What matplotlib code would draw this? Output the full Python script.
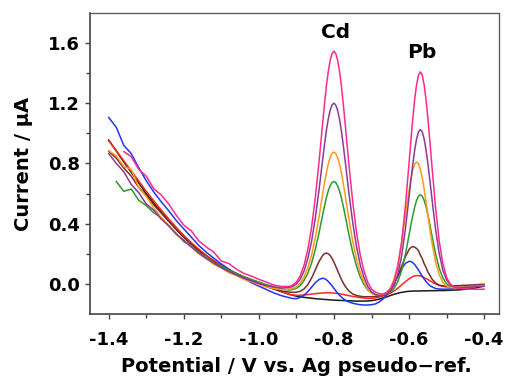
import numpy as np
import matplotlib
matplotlib.use("Agg")
import matplotlib.pyplot as plt
from matplotlib.ticker import MultipleLocator, FixedLocator, FormatStrFormatter

plt.rcParams['font.family'] = 'DejaVu Sans'
plt.rcParams['font.weight'] = 'bold'
plt.rcParams['axes.unicode_minus'] = False

nan = np.nan

# potential (V): coarse on the background slope, finer over the stripping peaks
potential = [-1.40, -1.38, -1.36, -1.34, -1.32, -1.30, -1.28, -1.26, -1.24, -1.22,
             -1.20, -1.18, -1.16, -1.14, -1.12, -1.10, -1.08, -1.06, -1.04, -1.02,
             -1.00, -0.98, -0.96, -0.94,
             -0.92, -0.91, -0.90, -0.89, -0.88, -0.87, -0.86, -0.85, -0.84, -0.83,
             -0.825, -0.82, -0.815, -0.81, -0.805, -0.80, -0.795, -0.79, -0.785, -0.78, -0.775,
             -0.77, -0.76, -0.75, -0.74, -0.73, -0.72, -0.71, -0.70, -0.69, -0.68,
             -0.67, -0.66, -0.65, -0.64, -0.63, -0.62, -0.61, -0.60,
             -0.595, -0.59, -0.585, -0.58, -0.575, -0.57, -0.565, -0.56, -0.555, -0.55, -0.545,
             -0.54, -0.53, -0.52, -0.51, -0.50, -0.49, -0.48, -0.47, -0.46, -0.44, -0.42, -0.40]

# current (uA), one list per concentration
black = [0.955, 0.882, 0.810, 0.740, 0.670, 0.600, 0.537, 0.476, 0.418, 0.362,
         0.310, 0.265, 0.222, 0.185, 0.150, 0.120, 0.093, 0.068, 0.045, 0.023,
         0.003, -0.016, -0.034, -0.052,
         -0.068, -0.075, -0.082, -0.086, -0.089, -0.092, -0.095, -0.098, -0.100, -0.102,
         -0.103, -0.104, -0.105, -0.106, -0.107, -0.108, -0.108, -0.109, -0.109, -0.110, -0.110,
         -0.111, -0.112, -0.113, -0.114, -0.114, -0.114, -0.113, -0.111, -0.107, -0.101,
         -0.094, -0.086, -0.077, -0.069, -0.062, -0.056, -0.052, -0.049,
         -0.048, -0.048, -0.047, -0.047, -0.047, -0.047, -0.046, -0.046, -0.046, -0.046, -0.045,
         -0.045, -0.045, -0.044, -0.044, -0.043, -0.042, -0.041, -0.040, -0.038, -0.033, -0.025, -0.015]

red = [0.950, 0.885, 0.818, 0.750, 0.683, 0.615, 0.552, 0.490, 0.432, 0.375,
       0.322, 0.274, 0.230, 0.190, 0.155, 0.123, 0.095, 0.070, 0.047, 0.027,
       0.010, -0.010, -0.030, -0.050,
       -0.069, -0.073, -0.076, -0.075, -0.073, -0.071, -0.068, -0.065, -0.062, -0.060,
       -0.060, -0.059, -0.059, -0.059, -0.060, -0.061, -0.062, -0.064, -0.066, -0.068, -0.070,
       -0.073, -0.078, -0.083, -0.087, -0.091, -0.094, -0.096, -0.096, -0.093, -0.088,
       -0.081, -0.072, -0.062, -0.047, -0.029, -0.007, 0.014, 0.034,
       0.042, 0.049, 0.053, 0.055, 0.055, 0.053, 0.048, 0.042, 0.036, 0.029, 0.022,
       0.014, 0.001, -0.010, -0.017, -0.020, -0.023, -0.023, -0.023, -0.022, -0.018, -0.014, -0.010]

blue = [1.105, 1.040, 0.920, 0.865, 0.770, 0.685, 0.610, 0.545, 0.485, 0.420,
        0.365, 0.310, 0.255, 0.210, 0.170, 0.132, 0.098, 0.066, 0.035, 0.008,
        -0.015, -0.037, -0.060, -0.078,
        -0.091, -0.097, -0.098, -0.090, -0.076, -0.052, -0.023, 0.007, 0.029, 0.038,
        0.035, 0.027, 0.016, 0.002, -0.013, -0.030, -0.047, -0.062, -0.076, -0.088, -0.099,
        -0.107, -0.120, -0.128, -0.134, -0.138, -0.140, -0.140, -0.138, -0.133, -0.120,
        -0.102, -0.075, -0.043, 0.001, 0.051, 0.099, 0.136, 0.150,
        0.149, 0.141, 0.129, 0.111, 0.093, 0.072, 0.052, 0.033, 0.017, 0.002, -0.009,
        -0.018, -0.030, -0.034, -0.035, -0.035, -0.033, -0.031, -0.029, -0.027, -0.022, -0.016, -0.010]

brown = [0.880, 0.835, 0.770, 0.715, 0.640, 0.590, 0.525, 0.470, 0.415, 0.360,
         0.310, 0.262, 0.220, 0.180, 0.145, 0.115, 0.088, 0.063, 0.040, 0.020,
         0.000, -0.018, -0.033, -0.046,
         -0.054, -0.056, -0.055, -0.049, -0.034, -0.006, 0.037, 0.092, 0.148, 0.190,
         0.201, 0.205, 0.200, 0.188, 0.169, 0.144, 0.116, 0.086, 0.057, 0.029, 0.005,
         -0.017, -0.048, -0.067, -0.077, -0.082, -0.085, -0.085, -0.085, -0.084, -0.081,
         -0.073, -0.060, -0.037, 0.000, 0.052, 0.116, 0.179, 0.228,
         0.242, 0.248, 0.244, 0.235, 0.221, 0.192, 0.169, 0.136, 0.111, 0.080, 0.060,
         0.036, 0.007, -0.008, -0.013, -0.015, -0.015, -0.013, -0.012, -0.010, -0.008, -0.005, -0.002]

green = [nan, 0.680, 0.615, 0.630, 0.555, 0.520, 0.472, 0.440, 0.385, 0.335,
         0.280, 0.250, 0.205, 0.180, 0.140, 0.118, 0.090, 0.070, 0.048, 0.030,
         0.012, -0.005, -0.020, -0.033,
         -0.041, -0.037, -0.029, -0.011, 0.022, 0.069, 0.136, 0.227, 0.337, 0.462,
         0.520, 0.575, 0.620, 0.653, 0.674, 0.680, 0.672, 0.650, 0.615, 0.569, 0.512,
         0.452, 0.324, 0.211, 0.117, 0.046, -0.004, -0.040, -0.061, -0.071, -0.076,
         -0.074, -0.068, -0.055, -0.030, 0.015, 0.087, 0.193, 0.325,
         0.393, 0.455, 0.511, 0.554, 0.582, 0.592, 0.583, 0.557, 0.515, 0.460, 0.399,
         0.333, 0.207, 0.107, 0.040, 0.001, -0.018, -0.025, -0.026, -0.025, -0.020, -0.015, -0.010]

orange = [0.885, 0.850, 0.780, 0.760, 0.640, 0.580, 0.505, 0.440, 0.385, 0.330,
          0.290, 0.245, 0.200, 0.168, 0.130, 0.105, 0.075, 0.055, 0.030, 0.015,
          -0.005, -0.020, -0.030, -0.037,
          -0.035, -0.030, -0.019, 0.004, 0.045, 0.105, 0.189, 0.304, 0.443, 0.600,
          0.673, 0.743, 0.799, 0.841, 0.867, 0.875, 0.865, 0.837, 0.793, 0.735, 0.663,
          0.587, 0.426, 0.283, 0.164, 0.075, 0.011, -0.034, -0.061, -0.074, -0.077,
          -0.074, -0.059, -0.028, 0.031, 0.128, 0.269, 0.445, 0.623,
          0.699, 0.757, 0.796, 0.810, 0.798, 0.762, 0.706, 0.632, 0.548, 0.460, 0.372,
          0.290, 0.154, 0.063, 0.011, -0.014, -0.024, -0.026, -0.027, -0.025, -0.020, -0.015, -0.010]

purple = [0.865, 0.800, 0.745, 0.660, 0.605, 0.530, 0.490, 0.430, 0.385, 0.330,
          0.290, 0.245, 0.205, 0.168, 0.138, 0.108, 0.082, 0.060, 0.038, 0.020,
          0.003, -0.010, -0.020, -0.027,
          -0.024, -0.017, 0.000, 0.030, 0.084, 0.165, 0.279, 0.433, 0.620, 0.830,
          0.929, 1.023, 1.098, 1.155, 1.189, 1.200, 1.186, 1.149, 1.090, 1.013, 0.916,
          0.814, 0.599, 0.407, 0.248, 0.128, 0.043, -0.017, -0.052, -0.070, -0.078,
          -0.078, -0.067, -0.048, -0.009, 0.063, 0.183, 0.359, 0.577,
          0.689, 0.795, 0.889, 0.962, 1.009, 1.025, 1.010, 0.965, 0.894, 0.802, 0.698,
          0.588, 0.375, 0.206, 0.092, 0.026, -0.006, -0.020, -0.024, -0.025, -0.022, -0.018, -0.015]

magenta = [nan, nan, 0.878, 0.845, 0.760, 0.715, 0.632, 0.590, 0.530, 0.455,
           0.390, 0.352, 0.285, 0.245, 0.210, 0.152, 0.135, 0.098, 0.070, 0.052,
           0.030, 0.012, -0.008, -0.017,
           -0.017, -0.008, 0.013, 0.053, 0.122, 0.225, 0.370, 0.567, 0.805, 1.073,
           1.199, 1.319, 1.414, 1.487, 1.530, 1.545, 1.528, 1.482, 1.407, 1.310, 1.188,
           1.059, 0.786, 0.544, 0.342, 0.192, 0.085, 0.011, -0.034, -0.055, -0.064,
           -0.068, -0.057, -0.034, 0.016, 0.113, 0.274, 0.510, 0.803,
           0.957, 1.098, 1.225, 1.322, 1.385, 1.408, 1.387, 1.325, 1.229, 1.103, 0.962,
           0.811, 0.522, 0.291, 0.135, 0.043, -0.002, -0.021, -0.028, -0.032, -0.034, -0.036, -0.035]

curves = [black, red, blue, brown, green, orange, purple, magenta]
colors = ['#1a1a1a', '#ff2a1a', '#2233ff', '#7b2d26', '#2e9a2e', '#ff9a1a', '#8a3a9a', '#ff2a8c']

peak_labels = ['Cd', 'Pb']
peak_label_x = [-0.797, -0.566]
peak_label_y = [1.667, 1.535]

fig = plt.figure(figsize=(5.07, 3.77), dpi=100)
ax = fig.add_axes([0.1775, 0.167, 0.807, 0.799])

for y, c in zip(curves, colors):
    ax.plot(potential, y, color=c, linewidth=1.1)

for lab, lx, ly in zip(peak_labels, peak_label_x, peak_label_y):
    ax.text(lx, ly, lab, ha='center', va='center', fontsize=14.5, fontweight='bold')

ax.set_xlim(-1.45, -0.36)
ax.set_ylim(-0.2, 1.8)
ax.xaxis.set_major_locator(MultipleLocator(0.2))
ax.xaxis.set_minor_locator(MultipleLocator(0.1))
ax.yaxis.set_major_locator(MultipleLocator(0.4))
ax.yaxis.set_minor_locator(FixedLocator([0.2, 0.6, 1.0, 1.4]))
ax.xaxis.set_major_formatter(FormatStrFormatter('%.1f'))
ax.yaxis.set_major_formatter(FormatStrFormatter('%.1f'))

ax.tick_params(which='both', direction='out', top=False, right=False, width=1.0,
               color='#444444')
ax.tick_params(which='major', length=3.8, labelsize=13)
ax.tick_params(which='minor', length=3.2)
ax.tick_params(axis='x', which='major', pad=8.5)
ax.tick_params(axis='y', which='major', pad=3.6)

for side in ['left', 'bottom']:
    ax.spines[side].set_linewidth(1.2)
    ax.spines[side].set_color('#444444')
for side in ['top', 'right']:
    ax.spines[side].set_linewidth(0.9)
    ax.spines[side].set_color('#555555')

ax.set_xlabel('Potential / V vs. Ag pseudo\u2212ref.', fontsize=14, fontweight='bold')
ax.set_ylabel('Current / \u03bcA', fontsize=14, fontweight='bold')
ax.xaxis.set_label_coords(0.505, -0.142)
ax.yaxis.set_label_coords(-0.139, 0.498)

fig.savefig('out.png', dpi=100)
